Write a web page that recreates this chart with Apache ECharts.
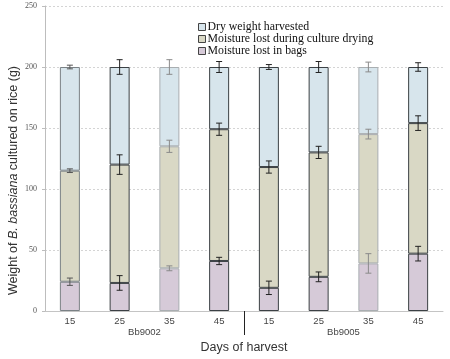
<!DOCTYPE html>
<html>
<head>
    <meta charset="utf-8">
    <script src="https://cdn.jsdelivr.net/npm/echarts@6/dist/echarts.min.js"></script>
</head>
<body style="margin:0">
    <div id="main" style="width: 450px;height:359px;"></div>
    <script type="text/javascript">
        // days of harvest, two strains
        var categories = ['15', '25', '35', '45', '15', '25', '35', '45'];
        var groups = ['Bb9002', 'Bb9005'];

        // stacked segments (g), bottom to top
        var bags = [24, 23, 35, 41, 19, 28, 39, 47];
        var drying = [91, 97, 100, 108, 99, 102, 106, 107];
        var dryWeight = [85, 80, 65, 51, 82, 70, 55, 46];

        // error bar half-lengths at the top of each segment
        var bagsErr = [3, 6, 2, 3, 5.5, 4, 8, 6];
        var dryingErr = [1.5, 8, 5, 5, 5, 5, 4, 6];
        var dryErr = [1.5, 6, 6, 4.5, 2, 4.5, 4, 3.5];

        // outline colour of each bar (some are drawn darker in the original)
        var edge = ['#7a8185', '#3b4044', '#a9aeb1', '#3b4044', '#3b4044', '#3b4044', '#a9aeb1', '#3b4044'];
        var whisker = ['#555', '#222', '#8a8a8a', '#222', '#222', '#222', '#8a8a8a', '#222'];

        function withEdges(values) {
            return values.map(function (v, i) {
                return { value: v, itemStyle: { borderColor: edge[i] } };
            });
        }

        // stack tops for error bars
        var topBags = bags.slice();
        var topDrying = bags.map(function (v, i) { return v + drying[i]; });
        var topDry = topDrying.map(function (v, i) { return v + dryWeight[i]; });

        function errData(tops, errs) {
            return tops.map(function (t, i) { return [i, t, errs[i]]; });
        }

        function renderErr(params, api) {
            var i = api.value(0);
            var y = api.value(1);
            var e = api.value(2);
            var hi = api.coord([i, y + e]);
            var lo = api.coord([i, y - e]);
            var cap = 3;
            var style = { stroke: whisker[i], lineWidth: 1 };
            return {
                type: 'group',
                children: [
                    { type: 'line', shape: { x1: hi[0], y1: hi[1], x2: lo[0], y2: lo[1] }, style: style },
                    { type: 'line', shape: { x1: hi[0] - cap, y1: hi[1], x2: hi[0] + cap, y2: hi[1] }, style: style },
                    { type: 'line', shape: { x1: lo[0] - cap, y1: lo[1], x2: lo[0] + cap, y2: lo[1] }, style: style }
                ]
            };
        }

        var serif = '"Liberation Serif", "DejaVu Serif", serif';
        var sans = '"Liberation Sans", Arial, sans-serif';

        var option = {
            animation: false,
            backgroundColor: '#fff',
            legend: {
                orient: 'vertical',
                left: 193,
                top: 16,
                itemGap: 0,
                itemWidth: 7,
                itemHeight: 7,
                icon: 'rect',
                itemStyle: { borderColor: '#444', borderWidth: 1 },
                textStyle: { fontFamily: serif, fontSize: 11.8, color: '#111', lineHeight: 11, padding: [0, 0, 0, -3] },
                data: ['Dry weight harvested', 'Moisture lost during culture drying', 'Moisture lost in bags']
            },
            grid: {
                left: 45,
                right: 7,
                top: 6,
                bottom: 48,
                outerBoundsMode: 'none'
            },
            xAxis: [
                {
                    type: 'category',
                    data: categories,
                    axisLine: { lineStyle: { color: '#c4c4c4' } },
                    axisTick: { show: false },
                    axisLabel: { fontFamily: sans, fontSize: 9.5, color: '#444', margin: 5 },
                    name: 'Days of harvest',
                    nameLocation: 'middle',
                    nameGap: 30,
                    nameMoveOverlap: false,
                    nameTextStyle: { fontFamily: sans, fontSize: 12.5, color: '#333' }
                },
                {
                    type: 'value',
                    position: 'bottom',
                    min: 0,
                    max: 8,
                    axisLine: { show: false },
                    splitLine: { show: false },
                    axisTick: {
                        show: true,
                        customValues: [4],
                        length: 24,
                        lineStyle: { color: '#222', width: 1 }
                    },
                    axisLabel: {
                        customValues: [2, 6],
                        formatter: function (v) { return groups[v === 2 ? 0 : 1]; },
                        fontFamily: sans,
                        fontSize: 9.5,
                        color: '#444',
                        margin: 16
                    }
                }
            ],
            yAxis: {
                type: 'value',
                min: 0,
                max: 250,
                interval: 50,
                axisLine: { show: true, lineStyle: { color: '#bdbdbd' } },
                axisTick: { show: true, length: 3, lineStyle: { color: '#bdbdbd' } },
                axisLabel: { fontFamily: serif, fontSize: 8, color: '#555', margin: 8 },
                splitLine: { lineStyle: { color: '#d4d4d4', type: [2, 2] } },
                name: 'Weight of {i|B. bassiana} cultured on rice (g)',
                nameLocation: 'middle',
                nameGap: 25,
                nameMoveOverlap: false,
                nameTextStyle: {
                    fontFamily: sans,
                    fontSize: 12.5,
                    color: '#333',
                    padding: [0, 44, 0, 0],
                    rich: {
                        i: { fontFamily: sans, fontSize: 12.5, color: '#333', fontStyle: 'italic' }
                    }
                }
            },
            series: [
                {
                    name: 'Moisture lost in bags',
                    type: 'bar',
                    stack: 'w',
                    barWidth: 20,
                    itemStyle: { color: '#d6cad8', borderWidth: 1 },
                    data: withEdges(bags)
                },
                {
                    name: 'Moisture lost during culture drying',
                    type: 'bar',
                    stack: 'w',
                    barWidth: 20,
                    itemStyle: { color: '#d9d8c5', borderWidth: 1 },
                    data: withEdges(drying)
                },
                {
                    name: 'Dry weight harvested',
                    type: 'bar',
                    stack: 'w',
                    barWidth: 20,
                    itemStyle: { color: '#d7e5ec', borderWidth: 1 },
                    data: withEdges(dryWeight)
                },
                { type: 'custom', renderItem: renderErr, data: errData(topBags, bagsErr), z: 5 },
                { type: 'custom', renderItem: renderErr, data: errData(topDrying, dryingErr), z: 5 },
                { type: 'custom', renderItem: renderErr, data: errData(topDry, dryErr), z: 5 }
            ]
        };

        var myChart = echarts.init(document.getElementById('main'));
        myChart.setOption(option);
    </script>
</body>
</html>
